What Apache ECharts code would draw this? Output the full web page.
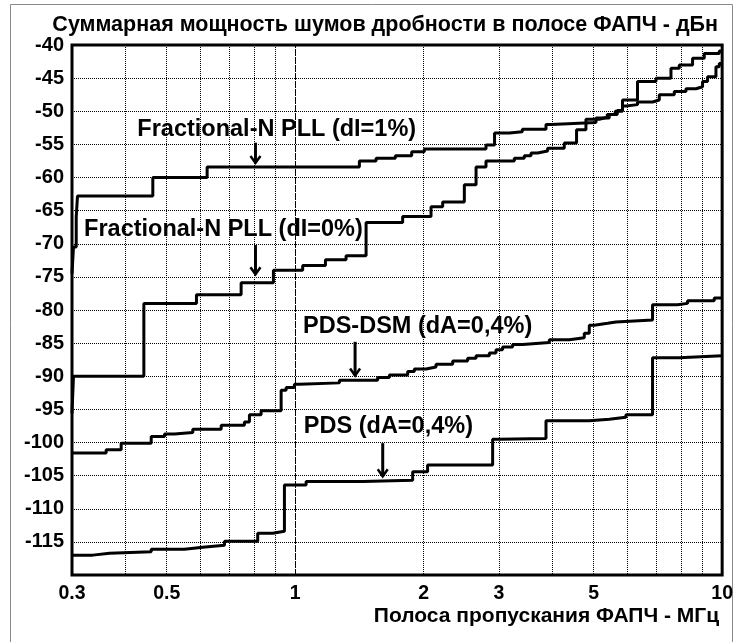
<!DOCTYPE html>
<html>
<head>
<meta charset="utf-8">
<script src="https://cdn.jsdelivr.net/npm/echarts@6/dist/echarts.min.js"></script>
<style>
html,body{margin:0;padding:0;background:#fff;}
#c{width:736px;height:642px;}
</style>
</head>
<body>
<div id="c"></div>
<script>
// ---- Data (x in MHz, y in dBc); step series: value holds from x until next x ----
const fracN_dI1 = [[0.300,-74.5],[0.3024,-70.5],[0.3069,-66.0],[0.309,-62.8],[0.4639,-60.0],[0.6218,-58.4],[1.4134,-57.5],[1.5466,-57.1],[1.716,-56.7],[1.874,-56.1],[2.006,-55.7],[2.798,-55.1],[2.93,-53.3],[3.173,-53.1],[3.403,-52.7],[3.867,-52.0],[3.973,-51.7],[5.063,-51.0],[5.439,-50.5],[5.679,-49.9],[5.843,-48.3],[6.335,-45.5],[6.997,-45.0],[7.588,-43.5],[7.936,-43.0],[8.525,-42.0],[9.080,-41.3],[9.845,-40.9],[10,-40.9]];
const fracN_dI0 = [[0.300,-95.6],[0.3024,-90.0],[0.442,-79.0],[0.587,-77.7],[0.7469,-75.9],[0.889,-74.0],[1.041,-73.3],[1.177,-72.4],[1.3156,-71.8],[1.4654,-66.8],[1.785,-65.9],[2.080,-64.4],[2.215,-63.7],[2.4895,-61.1],[2.652,-58.4],[2.798,-57.5],[3.260,-57.1],[3.440,-56.7],[3.567,-56.3],[3.696,-56.0],[3.901,-55.6],[4.268,-54.8],[4.560,-52.8],[4.797,-51.2],[5.153,-50.9],[5.381,-50.5],[5.618,-50.0],[5.843,-49.2],[5.961,-49.0],[6.335,-48.6],[6.870,-48.3],[7.123,-47.5],[7.724,-47.0],[8.227,-46.6],[8.683,-46.3],[8.997,-45.5],[9.243,-44.8],[9.671,-43.3],[9.845,-42.8],[10,-42.8]];
const pdsDsm = [[0.300,-101.6],[0.3607,-101.1],[0.3911,-100.1],[0.4599,-99.1],[0.4941,-98.7],[0.5213,-98.5],[0.5755,-98.0],[0.6708,-97.4],[0.7603,-96.9],[0.7811,-95.8],[0.8319,-95.2],[0.9268,-92.1],[0.9521,-91.7],[0.9956,-91.2],[1.0229,-91.0],[1.269,-90.6],[1.5599,-90.2],[1.6617,-89.8],[1.834,-89.3],[1.901,-88.9],[2.025,-88.6],[2.137,-88.2],[2.338,-87.7],[2.534,-87.3],[2.652,-86.9],[2.849,-86.5],[2.953,-86.0],[3.060,-85.6],[3.230,-85.2],[3.409,-84.9],[3.937,-84.5],[4.386,-84.2],[4.754,-83.5],[4.884,-82.3],[5.018,-82.0],[5.389,-81.8],[5.639,-81.5],[6.870,-79.2],[7.863,-79.0],[8.299,-78.6],[9.583,-78.2],[10,-78.2]];
const pds = [[0.300,-117.0],[0.3356,-116.7],[0.3673,-116.5],[0.4599,-116.1],[0.5502,-115.8],[0.6073,-115.5],[0.6828,-114.9],[0.8168,-113.7],[0.8857,-113.4],[0.9434,-106.4],[1.0604,-105.9],[1.4388,-105.7],[1.884,-104.4],[2.042,-103.4],[2.900,-99.5],[3.007,-99.4],[3.867,-96.7],[4.884,-96.5],[5.439,-96.2],[5.951,-95.8],[6.870,-87.2],[7.936,-86.9],[10,-86.9]];

const xTickLabels = [0.3, 0.5, 1, 2, 3, 5, 10];
const xGridValues = [0.4, 0.5, 0.6, 0.7, 0.8, 0.9, 1, 2, 3, 4, 5, 6, 7, 8, 9];
const xDashedGrid = [1];
const xRange = [0.3, 10];
const yRange = [-120, -40];
const yStep = 5;

const titleText = 'Суммарная мощность шумов дробности в полосе ФАПЧ - дБн';
const xAxisName = 'Полоса пропускания ФАПЧ - МГц';

// annotations: text, text centre [x,y], arrow x, arrow top y, arrow tip y
const annotText = ['Fractional-N PLL (dI=1%)', 'Fractional-N PLL (dI=0%)', 'PDS-DSM (dA=0,4%)', 'PDS (dA=0,4%)'];
const annotCenter = [[0.905,-52.7],[0.679,-67.8],[1.935,-82.5],[1.653,-97.6]];
const annotArrow = [[0.807,-54.75,-57.8],[0.807,-70.2,-74.6],[1.381,-84.8,-89.9],[1.603,-100.1,-105.1]];

const L = Math.log10;
const FONT = '"Liberation Sans", Arial, sans-serif';

const chart = echarts.init(document.getElementById('c'), null, {renderer: 'canvas'});

function mkSeries(name, arr) {
  return {
    name, type: 'line', step: 'end', symbol: 'none', z: 3,
    lineStyle: {color: '#000', width: 3},
    data: arr.map(p => [L(p[0]), p[1]])
  };
}

const option = {
  animation: false,
  backgroundColor: '#fff',
  grid: {left: 72, top: 45, right: 13, bottom: 67, show: true, borderColor: '#000', borderWidth: 3, backgroundColor: 'transparent', containLabel: false},
  title: {
    text: titleText, right: 13, top: 9,
    textStyle: {fontFamily: FONT, fontSize: 21.5, fontWeight: 'bold', color: '#000'}
  },
  xAxis: {
    type: 'value', min: L(xRange[0]), max: L(xRange[1]),
    name: xAxisName, nameLocation: 'end', nameGap: 0,
    nameTextStyle: {fontFamily: FONT, fontSize: 21, fontWeight: 'bold', color: '#000', align: 'right', verticalAlign: 'top', padding: [31, 3, 0, 0]},
    axisLine: {show: false},
    axisTick: {show: false, customValues: xGridValues.map(v => L(v))},
    splitLine: {show: true, lineStyle: {type: [1, 1], color: '#000', width: 1}},
    axisLabel: {
      customValues: xTickLabels.map(v => L(v)),
      margin: 9,
      fontFamily: FONT, fontSize: 19.5, fontWeight: 'bold', color: '#000',
      formatter: function (v) {
        const r = Math.round(Math.pow(10, v) * 10) / 10;
        return r < 1 ? r.toFixed(1) : String(Math.round(r));
      }
    }
  },
  yAxis: {
    type: 'value', min: yRange[0], max: yRange[1], interval: yStep,
    axisLine: {show: false}, axisTick: {show: false},
    splitLine: {show: true, lineStyle: {type: [1, 1], color: '#000', width: 1}},
    axisLabel: {
      margin: 8, fontFamily: FONT, fontSize: 20, fontWeight: 'bold', color: '#000',
      formatter: v => (v === yRange[0] ? '' : String(v))
    }
  },
  series: [
    {
      name: 'grid', type: 'line', symbol: 'none', silent: true, z: 1,
      lineStyle: {opacity: 0}, data: [[L(xRange[0]), yRange[0]]],
      markLine: {
        silent: true, symbol: ['none', 'none'], z: 1, label: {show: false}, emphasis: {disabled: true},
        lineStyle: {type: [5, 3], color: '#000', width: 1},
        data: xDashedGrid.map(v => ({xAxis: L(v)}))
      }
    },
    mkSeries('Fractional-N PLL (dI=1%)', fracN_dI1),
    mkSeries('Fractional-N PLL (dI=0%)', fracN_dI0),
    mkSeries('PDS-DSM (dA=0,4%)', pdsDsm),
    mkSeries('PDS (dA=0,4%)', pds)
  ]
};
chart.setOption(option);

const g = [{
  type: 'rect', silent: true, z: 0,
  shape: {x: 10.5, y: 4.5, width: 722, height: 700},
  style: {fill: 'none', stroke: '#8a8a8a', lineWidth: 1}
}];
annotText.forEach((t, i) => {
  const c = chart.convertToPixel({gridIndex: 0}, [L(annotCenter[i][0]), annotCenter[i][1]]);
  g.push({type: 'text', z: 10, x: c[0], y: c[1], style: {text: t, fill: '#000', font: 'bold 23.5px ' + FONT, align: 'center', verticalAlign: 'middle'}});
  const a = annotArrow[i];
  const top = chart.convertToPixel({gridIndex: 0}, [L(a[0]), a[1]]);
  const tip = chart.convertToPixel({gridIndex: 0}, [L(a[0]), a[2]]);
  g.push({type: 'line', z: 10, shape: {x1: top[0], y1: top[1], x2: tip[0], y2: tip[1]}, style: {stroke: '#000', lineWidth: 3}});
  g.push({type: 'polyline', z: 10, shape: {points: [[tip[0] - 5, tip[1] - 7], [tip[0], tip[1]], [tip[0] + 5, tip[1] - 7]]}, style: {stroke: '#000', lineWidth: 2.5, fill: 'none'}});
});
chart.setOption({graphic: g});
</script>
</body>
</html>
